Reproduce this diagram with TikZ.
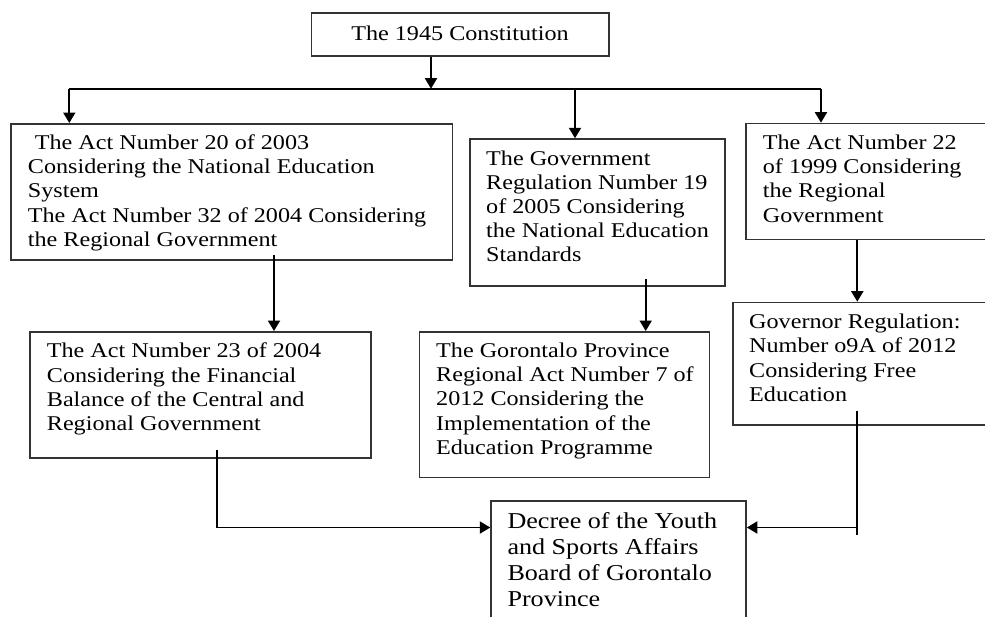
\documentclass[tikz,border=0pt]{standalone}
\usepackage{fontspec}
\setmainfont{Liberation Serif}[FakeStretch=1.15]
\usetikzlibrary{arrows.meta}
\tikzset{
  box/.style={draw=black!80, line width=1.5pt, rectangle, inner sep=0pt, anchor=north west},
  txt/.style={inner sep=0pt, anchor=base west, align=left, font={\fontsize{21}{24.4}\selectfont}},
  bigtxt/.style={inner sep=0pt, anchor=base west, align=left, font={\fontsize{22.7}{25.9}\selectfont}},
  conn/.style={line width=1.9pt, black},
  arr/.style={conn, -{Triangle[width=12pt,length=10.5pt]}}
}
\begin{document}
\begin{tikzpicture}[x=1pt,y=-1pt]
\useasboundingbox (0,0) rectangle (985,616);
\clip (0,0) rectangle (985,616);
% boxes
\node[box, minimum width=297.6pt, minimum height=43.3pt] (A) at (310.7,12) {};
\node[box, minimum width=441.7pt, minimum height=136.3pt] (B) at (10,123) {};
\node[box, minimum width=255pt, minimum height=147pt] (C) at (469.3,138.3) {};
\node[box, minimum width=260pt, minimum height=116pt] (D) at (745.3,122.7) {};
\node[box, minimum width=341pt, minimum height=126pt] (E) at (29.3,331) {};
\node[box, minimum width=290pt, minimum height=145.7pt] (F) at (418.7,331) {};
\node[box, minimum width=270pt, minimum height=122.3pt] (G) at (732.3,301.7) {};
\node[box, minimum width=255pt, minimum height=140pt] (H) at (490.3,500) {};
% texts (anchored at the baseline of their last line)
\node[txt, anchor=base] (At) at (460,40) {The 1945 Constitution};
\node[txt] (Bt) at (27.7,246.6) {\hspace{7pt}The Act Number 20 of 2003\\Considering the National Education\\System\\The Act Number 32 of 2004 Considering\\the Regional Government};
\node[txt, font={\fontsize{21}{24}\selectfont}] (Ct) at (486,261.7) {The Government\\Regulation Number 19\\of 2005 Considering\\the National Education\\Standards};
\node[txt] (Dt) at (762.7,222.3) {The Act Number 22\\of 1999 Considering\\the Regional\\Government};
\node[txt] (Et) at (46.7,430.8) {The Act Number 23 of 2004\\Considering the Financial\\Balance of the Central and\\Regional Government};
\node[txt, font={\fontsize{21}{24.2}\selectfont}] (Ft) at (436,454.3) {The Gorontalo Province\\Regional Act Number 7 of\\2012 Considering the\\Implementation of the\\Education Programme};
\node[txt] (Gt) at (749,401.6) {Governor Regulation:\\Number o9A of 2012\\Considering Free\\Education};
\node[bigtxt] (Ht) at (507.3,606) {Decree of the Youth\\and Sports Affairs\\Board of Gorontalo\\Province};
% connectors
\coordinate (bus) at (431,88.7);
\coordinate (busL) at (69.3,88.7);
\coordinate (busM) at (575,88.7);
\coordinate (busR) at (821,88.7);
\draw[arr] (A.south -| bus) -- (bus);
\draw[conn] (busL) -- (busR);
\draw[arr] (busL) -- (busL |- B.north);
\draw[arr] (busM) -- (busM |- C.north);
\draw[arr] (busR) -- (busR |- D.north);
\coordinate (be) at (274,255);
\draw[arr] (be) -- (be |- E.north);
\coordinate (cf) at (645.7,279);
\draw[arr] (cf) -- (cf |- F.north);
\coordinate (dg) at (857.3,0);
\draw[arr] (D.south -| dg) -- (G.north -| dg);
\coordinate (eh) at (217,450);
\coordinate (ehc) at (217,527.5);
\draw[arr] (eh) -- (ehc) -- (ehc -| H.west);
\coordinate (gh) at (857.3,411);
\coordinate (ghb) at (857.3,535);
\coordinate (ghc) at (857.3,527.5);
\draw[conn] (gh) -- (ghb);
\draw[arr] (ghc) -- (ghc -| H.east);
\end{tikzpicture}
\end{document}
